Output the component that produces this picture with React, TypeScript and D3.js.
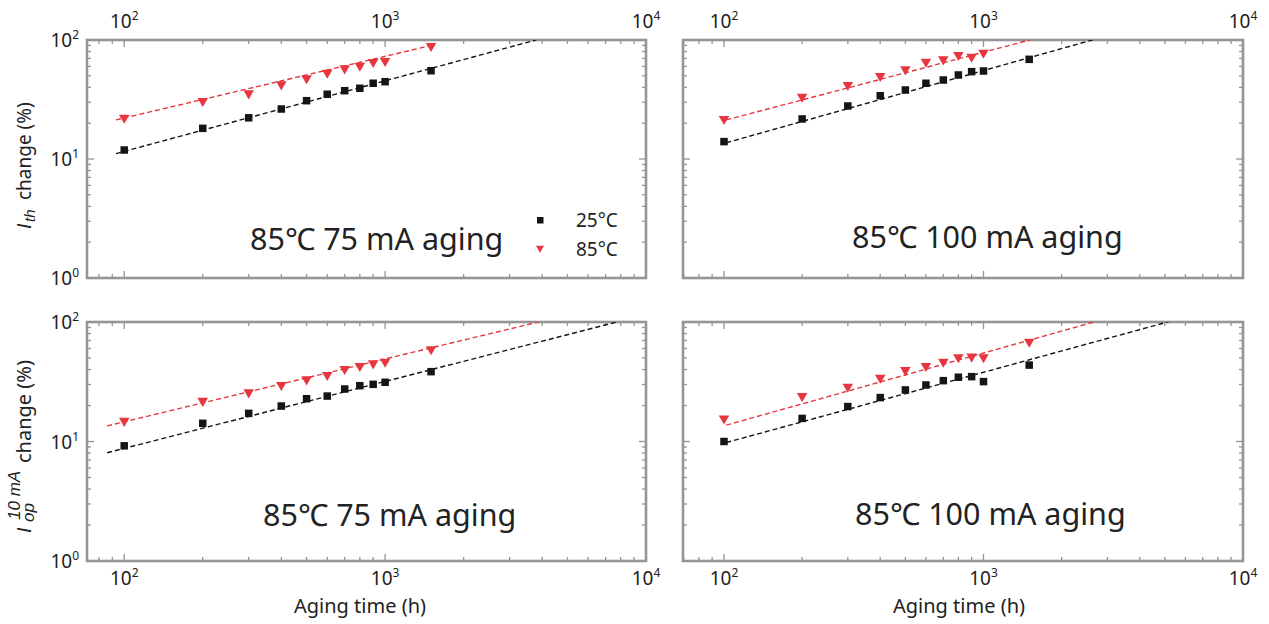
import React from 'react';
import * as d3 from 'd3';

const times = [100, 200, 300, 400, 500, 600, 700, 800, 900, 1000, 1500];
const tl25 = [11.9, 18.1, 22.2, 26.3, 30.9, 35.0, 37.5, 39.3, 43.3, 44.6, 55.2];
const tl85 = [22.2, 30.7, 35.6, 42.4, 47.7, 53.1, 57.8, 60.8, 65.3, 66.6, 89.0];
const tr25 = [14.0, 21.7, 27.9, 34.0, 38.0, 43.3, 46.1, 50.8, 54.2, 54.9, 68.8];
const tr85 = [21.7, 33.4, 41.9, 49.8, 56.7, 65.7, 68.8, 74.8, 72.4, 78.2];
const bl25 = [9.2, 14.2, 17.2, 19.8, 22.8, 24.0, 27.5, 29.3, 30.1, 31.3, 38.4];
const bl85 = [14.9, 21.9, 25.8, 29.7, 33.1, 36.0, 40.4, 42.8, 45.1, 46.5, 59.1];
const br25 = [10.0, 15.6, 19.6, 23.3, 27.0, 29.7, 32.3, 34.5, 34.9, 31.7, 43.6];
const br85 = [15.6, 24.0, 28.7, 34.2, 39.6, 42.9, 46.5, 50.7, 51.3, 50.7, 68.4];

// fit lines: [start time, start value, exponent, end time]
const fitTL25 = [93, 11.1, 0.593, 3800];
const fitTL85 = [93, 21.3, 0.518, 1550];
const fitTR25 = [102, 13.7, 0.612, 2640];
const fitTR85 = [102, 21.3, 0.574, 1520];
const fitBL25 = [86, 8.05, 0.56, 7750];
const fitBL85 = [86, 13.5, 0.526, 3890];
const fitBR25 = [102, 9.8, 0.593, 5180];
const fitBR85 = [102, 13.7, 0.609, 2660];

const titles = ['85\u2103 75 mA aging', '85\u2103 100 mA aging'];
const legendLabels = ['25\u00B0C', '85\u00B0C'];
const xTickDecades = [2, 3, 4];
const yTickDecades = [0, 1, 2];
const xMins = [72, 69.5];
const yDomain = [1, 100];

const FONT = "'Noto Sans', 'Open Sans', sans-serif";
const IFONT = "'Liberation Sans', 'DejaVu Sans', sans-serif";
const BLACK = '#151515';
const RED = '#e6363f';
const FRAME = '#959595';
const TXT = '#222';

type Panel = {
  key: string;
  col: number;
  row: number;
  x0: number; x1: number; y0: number; y1: number;
  s25: number[]; s85: number[];
  f25: number[]; f85: number[];
  title: string;
  tx: number; ty: number;
};

const panels: Panel[] = [
  { key: 'tl', col: 0, row: 0, x0: 87, x1: 646, y0: 40, y1: 278, s25: tl25, s85: tl85, f25: fitTL25, f85: fitTL85, title: titles[0], tx: 250, ty: 250 },
  { key: 'tr', col: 1, row: 0, x0: 683, x1: 1243, y0: 40, y1: 278, s25: tr25, s85: tr85, f25: fitTR25, f85: fitTR85, title: titles[1], tx: 852, ty: 248 },
  { key: 'bl', col: 0, row: 1, x0: 87, x1: 646, y0: 322, y1: 561, s25: bl25, s85: bl85, f25: fitBL25, f85: fitBL85, title: titles[0], tx: 263, ty: 526 },
  { key: 'br', col: 1, row: 1, x0: 683, x1: 1243, y0: 322, y1: 561, s25: br25, s85: br85, f25: fitBR25, f85: fitBR85, title: titles[1], tx: 855, ty: 525 },
];

function minorTicks(lo: number, hi: number) {
  const out: number[] = [];
  for (let d = -1; d <= 5; d++) {
    for (let m = 1; m <= 9; m++) {
      const v = m * Math.pow(10, d);
      if (v >= lo * 0.9999 && v <= hi * 1.0001) out.push(v);
    }
  }
  return out;
}

function Pow({ base, exp, ...rest }: any) {
  return (
    <text {...rest}>
      {base}
      <tspan dy={-8} fontSize={12}>{exp}</tspan>
    </text>
  );
}

function PanelView({ p }: { p: Panel }) {
  const x = d3.scaleLog().domain([xMins[p.col], 10000]).range([p.x0, p.x1]);
  const y = d3.scaleLog().domain(yDomain).range([p.y1, p.y0]);
  const clipId = 'clip-' + p.key;
  const fitPath = (f: number[]) => {
    const g = d3.line<number>().x((t) => x(t)).y((t) => y(f[1] * Math.pow(t / f[0], f[2])));
    return g([f[0], f[3]]) || '';
  };
  const xt = minorTicks(xMins[p.col], 10000);
  const yt = minorTicks(1, 100);
  const isMajor = (v: number) => Math.abs(Math.log10(v) - Math.round(Math.log10(v))) < 1e-6;
  const sq = 7.5;
  const tri = d3.symbol().type(d3.symbolTriangle).size(48)();
  return (
    <g>
      <defs>
        <clipPath id={clipId}>
          <rect x={p.x0} y={p.y0} width={p.x1 - p.x0} height={p.y1 - p.y0} />
        </clipPath>
      </defs>
      {xt.map((v, i) => {
        const len = isMajor(v) ? 7 : 4;
        return (
          <g key={'xt' + i} stroke={FRAME} strokeWidth={1.3}>
            <line x1={x(v)} x2={x(v)} y1={p.y1} y2={p.y1 - len} />
            <line x1={x(v)} x2={x(v)} y1={p.y0} y2={p.y0 + len} />
          </g>
        );
      })}
      {yt.map((v, i) => {
        const len = isMajor(v) ? 7 : 4;
        return (
          <g key={'yt' + i} stroke={FRAME} strokeWidth={1.3}>
            <line x1={p.x0} x2={p.x0 + len} y1={y(v)} y2={y(v)} />
            <line x1={p.x1} x2={p.x1 - len} y1={y(v)} y2={y(v)} />
          </g>
        );
      })}
      <rect x={p.x0} y={p.y0} width={p.x1 - p.x0} height={p.y1 - p.y0} fill="none" stroke={FRAME} strokeWidth={2.6} />
      {xTickDecades.map((d) => (
        <Pow key={'xl' + d} base="10" exp={d} x={x(Math.pow(10, d))}
          y={p.row === 0 ? p.y0 - 12 : p.y1 + 24}
          textAnchor="middle" fontSize={19} fill={TXT} fontFamily={FONT} />
      ))}
      {p.col === 0 && yTickDecades.map((d) => (
        <Pow key={'yl' + d} base="10" exp={d} x={p.x0 - 8} y={y(Math.pow(10, d)) + 7}
          textAnchor="end" fontSize={19} fill={TXT} fontFamily={FONT} />
      ))}
      <g clipPath={`url(#${clipId})`}>
        <path d={fitPath(p.f25)} fill="none" stroke={BLACK} strokeWidth={1.4} strokeDasharray="5,3" />
        <path d={fitPath(p.f85)} fill="none" stroke={RED} strokeWidth={1.4} strokeDasharray="5,3" />
        {p.s25.map((v, i) => (
          <rect key={'b' + i} x={x(times[i]) - sq / 2} y={y(v) - sq / 2} width={sq} height={sq} fill={BLACK} />
        ))}
        {p.s85.map((v, i) => (
          <path key={'r' + i} d={tri || ''} transform={`translate(${x(times[i])},${y(v)}) rotate(180)`} fill={RED} />
        ))}
      </g>
      <text x={p.tx} y={p.ty} fontSize={30.5} fill={TXT} fontFamily={FONT}>{p.title}</text>
    </g>
  );
}

export default function App() {
  const tiny = d3.symbol().type(d3.symbolTriangle).size(28)();
  return (
    <svg width={1269} height={624} style={{ display: 'block', position: 'absolute', left: 0, top: 0, background: '#fff' }}>
      <rect x={0} y={0} width={1269} height={624} fill="#fff" />
      {panels.map((p) => <PanelView key={p.key} p={p} />)}
      <rect x={537} y={217} width={6.5} height={6.5} fill={BLACK} />
      <path d={tiny || ''} transform="translate(540,248) rotate(180)" fill={RED} />
      <text x={576} y={227} fontSize={19} fill={TXT} fontFamily={FONT}>{legendLabels[0]}</text>
      <text x={576} y={256} fontSize={19} fill={TXT} fontFamily={FONT}>{legendLabels[1]}</text>
      <text x={360} y={613} textAnchor="middle" fontSize={20} fill={TXT} fontFamily={FONT}>Aging time (h)</text>
      <text x={959} y={613} textAnchor="middle" fontSize={20} fill={TXT} fontFamily={FONT}>Aging time (h)</text>
      <g transform="translate(31,0) rotate(-90)">
        <text x={-229} y={0} fontSize={20} fill={TXT} fontFamily={IFONT} fontStyle="italic">I</text>
        <text x={-222} y={4} fontSize={15} fill={TXT} fontFamily={IFONT} fontStyle="italic">th</text>
        <text x={-200} y={0} fontSize={19} fill={TXT} fontFamily={FONT}>change (%)</text>
        <text x={-533} y={0} fontSize={20} fill={TXT} fontFamily={IFONT} fontStyle="italic">I</text>
        <text x={-522} y={3} fontSize={17} fill={TXT} fontFamily={IFONT} fontStyle="italic">op</text>
        <text x={-520} y={-11} fontSize={17} fill={TXT} fontFamily={IFONT} fontStyle="italic">10 mA</text>
        <text x={-463} y={0} fontSize={20} fill={TXT} fontFamily={FONT}>change (%)</text>
      </g>
    </svg>
  );
}
